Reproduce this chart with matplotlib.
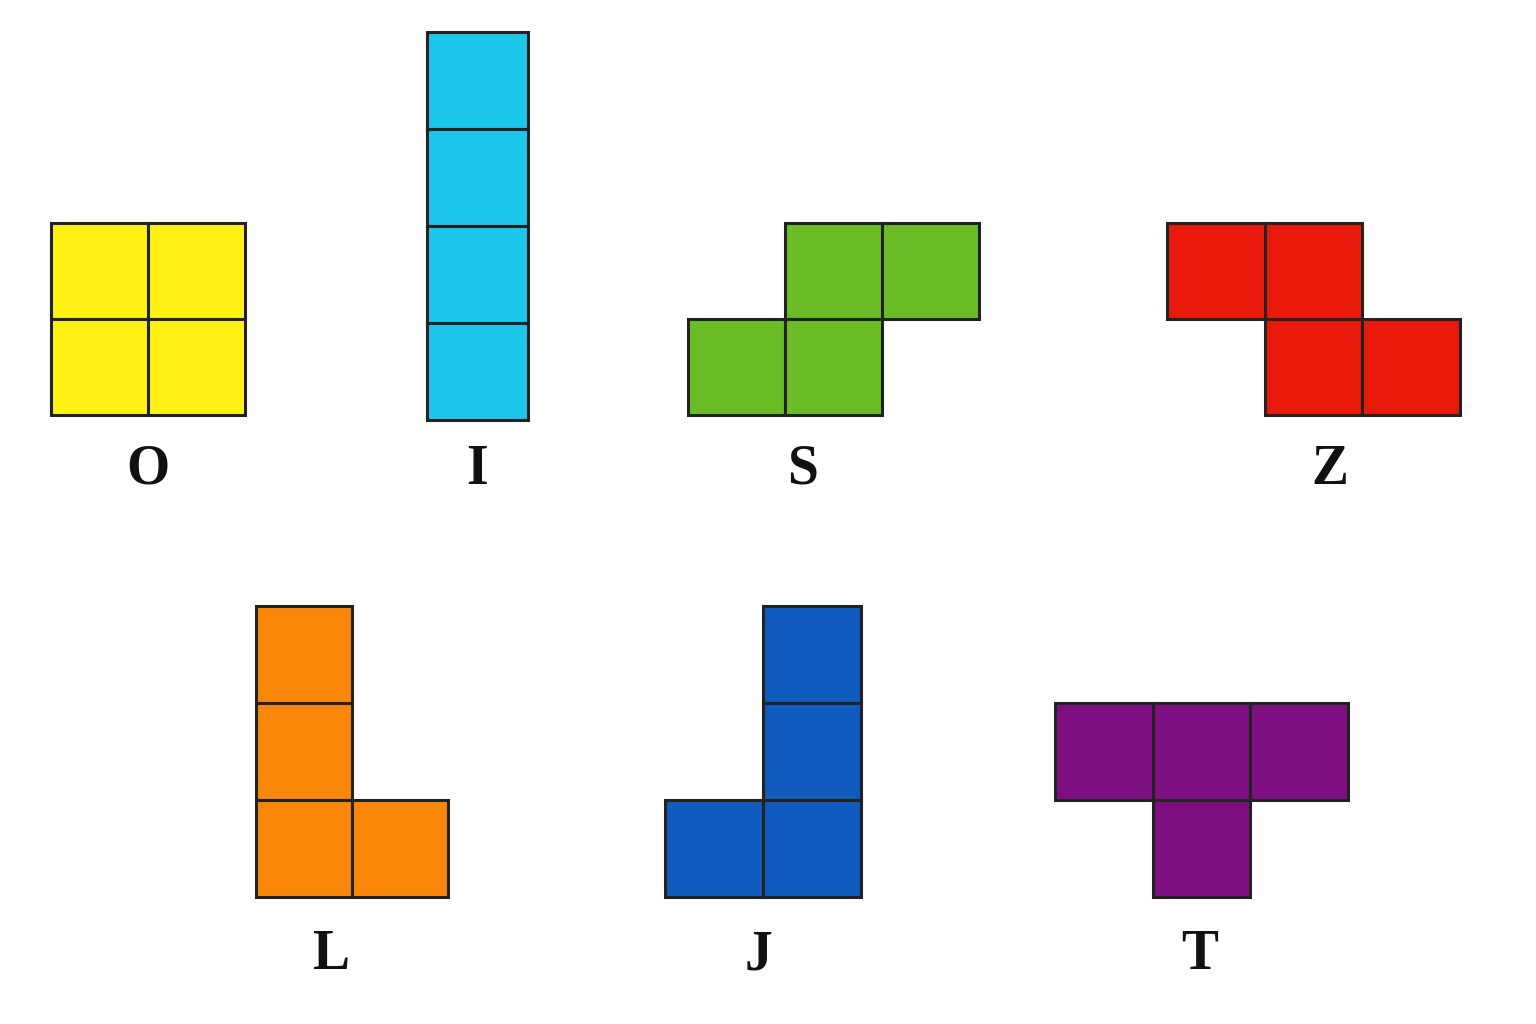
import matplotlib.pyplot as plt
from matplotlib.patches import Rectangle

# piece names, colours and their cells (col, row) in grid units
names = ["O", "I", "S", "Z", "L", "J", "T"]
colors = ["#FEF215", "#1BC6EA", "#6BBD28", "#E8190B", "#F8870A", "#0F5BBE", "#7D0F83"]
cells = [
    [(0, 0), (1, 0), (0, 1), (1, 1)],
    [(0, 0), (0, 1), (0, 2), (0, 3)],
    [(1, 0), (2, 0), (0, 1), (1, 1)],
    [(0, 0), (1, 0), (1, 1), (2, 1)],
    [(0, 0), (0, 1), (0, 2), (1, 2)],
    [(1, 0), (1, 1), (0, 2), (1, 2)],
    [(0, 0), (1, 0), (2, 0), (1, 1)],
]
# top-left pixel of each piece, and label position
origins = [(51, 223), (427, 32), (688, 223), (1167, 223), (256, 606), (665, 606), (1055, 703)]
label_pos = [(148, 470), (477, 470), (802, 470), (1330, 470), (332, 955), (758, 955), (1200, 955)]
cell_w = [97, 101, 97, 97.5, 96, 98, 97.5]
cell_h = [96, 97, 96, 96, 97, 97, 97]

fig = plt.figure(figsize=(15.36, 10.24), dpi=100)
ax = fig.add_axes([0, 0, 1, 1])
ax.set_xlim(0, 1536)
ax.set_ylim(1024, 0)
ax.axis("off")

for name, col, cl, (ox, oy), (lx, ly), w, h in zip(names, colors, cells, origins, label_pos, cell_w, cell_h):
    for c, r in cl:
        ax.add_patch(Rectangle((ox + c * w, oy + r * h), w, h,
                               facecolor=col, edgecolor="#222222", linewidth=2.2))
    ax.text(lx, ly, name, ha="center", va="center", fontsize=40,
            family="Liberation Serif", fontweight="bold", color="#111111")

plt.savefig("out.png", dpi=100)
